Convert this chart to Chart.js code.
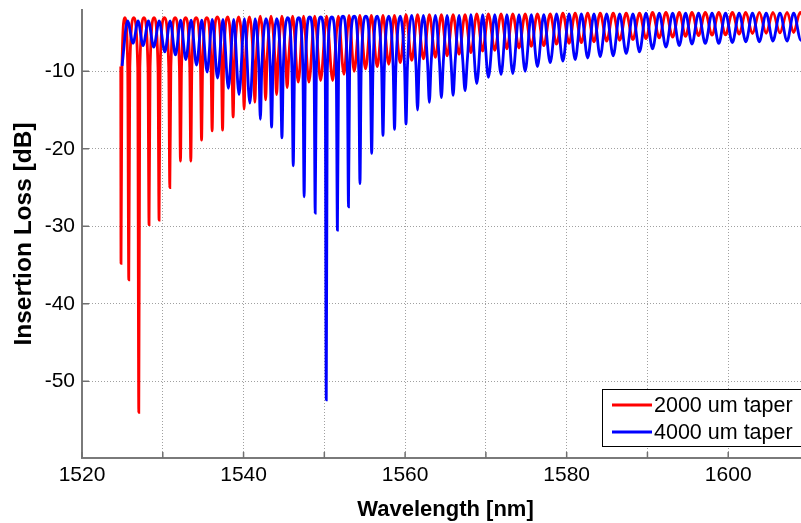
<!DOCTYPE html>
<html>
<head>
<meta charset="utf-8">
<script src="https://cdn.jsdelivr.net/npm/chart.js@4.4.1/dist/chart.umd.min.js"></script>
<style>
html,body{margin:0;padding:0;background:#fff;overflow:hidden;width:801px;height:523px}
#wrap{position:absolute;left:0;top:0;width:810px;height:523px}
</style>
</head>
<body>
<div id="wrap"><canvas id="c" width="810" height="523"></canvas></div>
<script>
// ---- data ----
const seriesLabels = ['2000 um taper', '4000 um taper'];

const redWavelength = [
1524.80,1524.83,1524.95,1525.31,1525.66,1525.79,1525.92,1526.41,1526.90,1527.03,
1527.16,1527.67,1528.17,1528.30,1528.43,1528.92,1529.41,1529.54,1529.67,1530.20,
1530.74,1530.87,1531.00,1531.53,1532.06,1532.19,1532.32,1532.83,1533.34,1533.47,
1533.60,1534.13,1534.67,1534.80,1534.93,1535.45,1535.98,1536.11,1536.24,1536.75,
1537.27,1537.40,1537.53,1538.05,1538.56,1538.71,1538.86,1539.39,1539.92,1540.07,
1540.22,1540.73,1541.23,1541.40,1541.57,1542.06,1542.55,1542.73,1542.91,1543.41,
1543.89,1544.09,1544.29,1544.75,1545.20,1545.40,1545.60,1546.08,1546.77,1547.43,
1548.09,1548.81,1549.54,1550.28,1551.03,1551.73,1552.43,1553.06,1553.70,1554.40,
1555.10,1555.82,1556.55,1557.26,1557.97,1558.68,1559.40,1560.11,1560.82,1561.54,
1562.27,1563.00,1563.75,1564.49,1565.20,1565.94,1566.68,1567.42,1568.15,1568.87,
1569.60,1570.31,1571.10,1571.88,1572.60,1573.33,1574.10,1574.86,1575.62,1576.38,
1577.17,1577.96,1578.75,1579.53,1580.30,1581.05,1581.82,1582.60,1583.38,1584.15,
1584.95,1585.76,1586.56,1587.37,1588.20,1589.02,1589.82,1590.63,1591.46,1592.29,
1593.12,1593.94,1594.72,1595.51,1596.33,1597.16,1598.00,1598.83,1599.67,1600.51,
1601.35,1602.18,1603.00,1603.85,1604.70,1605.53,1606.40,1607.29,1608.10,1608.90,
1609.70
];
const redLoss = [
-9.4,-34.8,-9.5,-3.1,-9.5,-36.9,-9.5,-3.1,-9.5,-54.0,
-9.5,-3.1,-9.5,-29.8,-9.5,-3.1,-9.5,-29.2,-9.5,-3.1,
-9.5,-25.0,-9.5,-3.1,-9.5,-21.6,-9.5,-3.1,-9.5,-21.6,
-9.5,-3.1,-9.5,-18.9,-9.5,-3.1,-9.5,-17.7,-9.5,-3.0,
-9.5,-17.6,-9.5,-3.0,-9.3,-15.9,-9.3,-3.0,-9.0,-14.9,
-9.0,-3.0,-8.8,-14.0,-8.8,-2.9,-8.6,-13.7,-8.6,-2.9,
-8.4,-13.0,-8.4,-2.9,-8.2,-12.1,-8.2,-2.9,-11.4,-2.9,
-11.4,-2.9,-11.2,-2.9,-11.2,-2.9,-10.4,-2.8,-10.0,-2.8,
-9.7,-2.8,-9.4,-2.8,-9.1,-2.8,-8.9,-2.7,-8.6,-2.7,
-8.4,-2.7,-8.2,-2.7,-8.0,-2.7,-7.8,-2.7,-7.6,-2.6,
-7.4,-2.6,-7.3,-2.6,-7.1,-2.6,-7.0,-2.6,-6.8,-2.6,
-6.7,-2.6,-6.5,-2.5,-6.4,-2.5,-6.3,-2.5,-6.2,-2.5,
-6.1,-2.5,-6.0,-2.5,-5.9,-2.5,-5.8,-2.4,-5.7,-2.4,
-5.6,-2.4,-5.5,-2.4,-5.4,-2.4,-5.35,-2.4,-5.3,-2.4,
-5.2,-2.4,-5.15,-2.4,-5.1,-2.4,-5.05,-2.4,-5.0,-2.4,
-4.9
];

const blueWavelength = [
1524.96,1525.64,1526.32,1526.94,1527.56,1528.22,1528.88,1529.56,1530.25,1530.91,
1531.57,1532.21,1532.85,1533.51,1534.18,1534.83,1535.49,1536.13,1536.78,1537.45,
1538.12,1538.78,1539.44,1540.11,1540.78,1541.43,1541.90,1542.08,1542.26,1542.78,
1543.30,1543.47,1543.64,1544.11,1544.58,1544.75,1544.92,1545.45,1545.99,1546.15,
1546.31,1546.83,1547.35,1547.50,1547.65,1548.19,1548.73,1548.87,1549.01,1549.56,
1550.11,1550.24,1550.37,1550.93,1551.48,1551.62,1551.76,1552.31,1552.85,1552.99,
1553.13,1553.70,1554.26,1554.41,1554.56,1555.14,1555.70,1555.86,1556.02,1556.56,
1557.09,1557.26,1557.43,1557.98,1558.52,1558.69,1558.86,1559.40,1559.93,1560.11,
1560.29,1560.82,1561.34,1561.54,1561.74,1562.27,1562.78,1563.00,1563.22,1563.75,
1564.25,1564.49,1564.73,1565.20,1565.68,1565.94,1566.20,1566.68,1567.14,1567.42,
1567.70,1568.15,1568.87,1569.60,1570.31,1571.10,1571.88,1572.60,1573.33,1574.10,
1574.86,1575.62,1576.38,1577.17,1577.96,1578.75,1579.53,1580.30,1581.05,1581.82,
1582.60,1583.38,1584.15,1584.95,1585.76,1586.56,1587.37,1588.20,1589.02,1589.82,
1590.63,1591.46,1592.29,1593.12,1593.94,1594.72,1595.51,1596.33,1597.16,1598.00,
1598.83,1599.67,1600.51,1601.35,1602.18,1603.00,1603.85,1604.70,1605.53,1606.40,
1607.29,1608.10,1609.00,1609.90
];
const blueLoss = [
-9.3,-3.5,-6.4,-3.5,-6.7,-3.5,-6.9,-3.5,-7.5,-3.5,
-7.9,-3.4,-8.5,-3.4,-9.2,-3.4,-10.1,-3.3,-10.9,-3.3,
-12.2,-3.3,-13.0,-3.2,-14.1,-3.2,-9.5,-16.2,-9.5,-3.2,
-9.5,-17.2,-9.5,-3.2,-9.6,-18.6,-9.6,-3.1,-9.8,-22.2,
-9.8,-3.1,-10.0,-26.2,-10.0,-3.0,-10.0,-28.3,-10.0,-3.0,
-10.0,-52.4,-10.0,-3.0,-10.0,-30.5,-10.0,-2.9,-10.0,-27.5,
-10.0,-2.9,-10.0,-24.5,-10.0,-2.9,-9.8,-20.6,-9.8,-2.9,
-9.6,-18.3,-9.6,-2.9,-9.5,-17.5,-9.5,-2.9,-9.4,-16.8,
-9.4,-2.8,-9.2,-15.0,-9.2,-2.8,-9.0,-14.0,-9.0,-2.8,
-8.8,-13.4,-8.8,-2.8,-8.7,-13.1,-8.7,-2.8,-8.6,-12.5,
-8.6,-2.7,-11.6,-2.7,-10.8,-2.7,-10.4,-2.7,-10.3,-2.7,
-10.0,-2.7,-9.4,-2.7,-8.9,-2.6,-8.7,-2.6,-8.5,-2.6,
-8.3,-2.6,-8.1,-2.6,-8.0,-2.6,-7.7,-2.6,-7.5,-2.5,
-7.1,-2.5,-6.9,-2.5,-6.7,-2.5,-6.5,-2.5,-6.4,-2.5,
-6.4,-2.5,-6.3,-2.5,-6.2,-2.5,-6.2,-2.5,-6.1,-2.5,
-6.1,-2.5,-6.0,-2.6
];

const xGridValues = [1520,1530,1540,1550,1560,1570,1580,1590,1600,1610];
const xTickLabels = [1520,1540,1560,1580,1600];
const yTickValues = [-50,-40,-30,-20,-10];
// ---------------------------------------

const FONT = 'Arial, "Liberation Sans", Helvetica, sans-serif';
Chart.defaults.font.family = FONT;
Chart.defaults.color = '#000';

function zip(xs, ys) {
  const n = Math.min(xs.length, ys.length);
  const out = [];
  for (let i = 0; i < n; i++) out.push({x: xs[i], y: ys[i]});
  return out;
}

const decor = {
  id: 'decor',
  afterDraw(chart) {
    const {ctx, chartArea: a, scales: {x, y}} = chart;
    ctx.save();
    // inward tick marks
    ctx.strokeStyle = '#707070';
    ctx.lineWidth = 1.5;
    xGridValues.forEach(v => {
      const px = x.getPixelForValue(v);
      ctx.beginPath(); ctx.moveTo(px, a.bottom); ctx.lineTo(px, a.bottom - 6); ctx.stroke();
    });
    yTickValues.forEach(v => {
      const py = y.getPixelForValue(v);
      ctx.beginPath(); ctx.moveTo(a.left, py); ctx.lineTo(a.left + 7, py); ctx.stroke();
    });
    // legend box
    const bx = 602.5, by = 389.5, bw = 205, bh = 57;
    ctx.fillStyle = '#fff';
    ctx.fillRect(bx, by, bw, bh);
    ctx.strokeStyle = '#000';
    ctx.lineWidth = 1;
    ctx.strokeRect(bx, by, bw, bh);
    const rows = [{y: 405, ds: chart.data.datasets[0]}, {y: 432, ds: chart.data.datasets[1]}];
    rows.forEach(r => {
      ctx.strokeStyle = r.ds.borderColor;
      ctx.lineWidth = 3;
      ctx.beginPath(); ctx.moveTo(612, r.y); ctx.lineTo(652, r.y); ctx.stroke();
      ctx.fillStyle = '#000';
      ctx.font = '21.5px ' + FONT;
      ctx.textBaseline = 'middle';
      ctx.textAlign = 'left';
      ctx.fillText(r.ds.label, 654, r.y + 1);
    });
    ctx.restore();
  }
};

new Chart(document.getElementById('c'), {
  type: 'line',
  data: {
    datasets: [
      {
        label: seriesLabels[0],
        data: zip(redWavelength, redLoss),
        borderColor: 'rgb(255,0,0)',
        borderWidth: 2.8,
        pointRadius: 0,
        cubicInterpolationMode: 'monotone',
        fill: false,
        order: 1
      },
      {
        label: seriesLabels[1],
        data: zip(blueWavelength, blueLoss),
        borderColor: 'rgb(0,0,255)',
        borderWidth: 2.8,
        pointRadius: 0,
        cubicInterpolationMode: 'monotone',
        fill: false,
        order: 0
      }
    ]
  },
  options: {
    responsive: false,
    animation: false,
    devicePixelRatio: 1,
    layout: {padding: {left: 0, top: 10, right: 1, bottom: 0}},
    plugins: {legend: {display: false}, tooltip: {enabled: false}},
    scales: {
      x: {
        type: 'linear',
        min: 1520,
        max: 1610,
        afterBuildTicks: (s) => { s.ticks = xGridValues.map(v => ({value: v})); },
        afterFit: (s) => { s.height = 65; s.paddingLeft = 0; s.paddingRight = 0; },
        ticks: {
          autoSkip: false,
          maxRotation: 0,
          padding: 5,
          font: {size: 21},
          color: '#000',
          callback: (v) => xTickLabels.includes(v) ? String(v) : ''
        },
        grid: {color: '#a0a0a0', lineWidth: 1, drawTicks: false},
        border: {display: true, color: '#7a7a7a', width: 2, dash: [1, 2]},
        title: {display: true, text: 'Wavelength [nm]', font: {size: 22, weight: 'bold'}, color: '#000', padding: {top: 0, bottom: 0}}
      },
      y: {
        type: 'linear',
        min: -59.9,
        max: -2.1,
        afterBuildTicks: (s) => { s.ticks = yTickValues.map(v => ({value: v})); },
        afterFit: (s) => { s.width = 82; s.paddingTop = 0; s.paddingBottom = 0; },
        ticks: {padding: 7, font: {size: 21}, color: '#000'},
        grid: {color: '#a0a0a0', lineWidth: 1, drawTicks: false},
        border: {display: true, color: '#7a7a7a', width: 2, dash: [1, 2]},
        title: {display: true, text: 'Insertion Loss [dB]', font: {size: 24.5, weight: 'bold'}, color: '#000', padding: {top: 10, bottom: 0}}
      }
    }
  },
  plugins: [decor]
});
</script>
</body>
</html>
